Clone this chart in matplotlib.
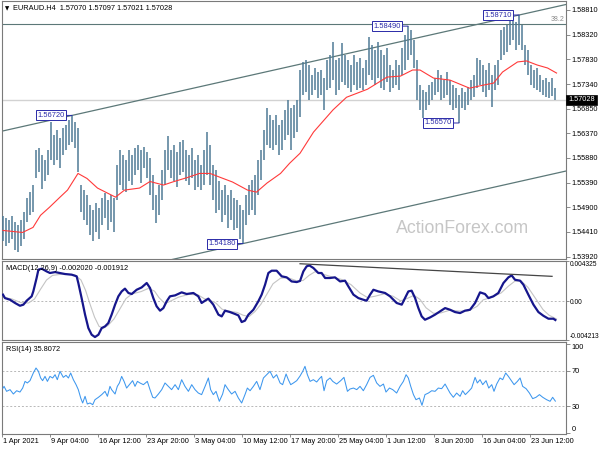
import matplotlib
matplotlib.use("Agg")
import matplotlib.pyplot as plt
import numpy as np
from matplotlib.transforms import ScaledTranslation, blended_transform_factory

plt.rcParams['font.family'] = ['Liberation Sans', 'DejaVu Sans']

symbol = "EURAUD.H4"
title_ohlc = [1.57070, 1.57097, 1.57021, 1.57028]

# Price bars: each entry covers two consecutive H4 candles (high / low)
bar_high = [
    1.5472, 1.5468, 1.5464, 1.5472, 1.5460, 1.5454, 1.5464, 1.5480,
    1.5508, 1.5520, 1.5534,
    1.5603, 1.5607, 1.5593, 1.5583, 1.5603,
    1.5659, 1.5633, 1.5643, 1.5627, 1.5647, 1.5653, 1.5663, 1.5672, 1.5659, 1.5647,
    1.5534, 1.5524, 1.5514, 1.5494, 1.5484, 1.5498, 1.5488,
    1.5508, 1.5518, 1.5504, 1.5514, 1.5508,
    1.5573, 1.5603, 1.5593, 1.5583, 1.5603, 1.5593, 1.5607, 1.5613, 1.5603, 1.5609, 1.5599,
    1.5587, 1.5553, 1.5514, 1.5534, 1.5563,
    1.5603, 1.5631, 1.5603, 1.5613, 1.5599, 1.5619, 1.5623,
    1.5603, 1.5593, 1.5607, 1.5583, 1.5593, 1.5573, 1.5603, 1.5639, 1.5613,
    1.5573, 1.5563, 1.5543, 1.5524, 1.5534, 1.5514, 1.5524, 1.5508, 1.5504, 1.5494, 1.5484,
    1.5514, 1.5534, 1.5544, 1.5553, 1.5583, 1.5603,
    1.5643, 1.5687, 1.5673, 1.5663, 1.5673, 1.5653, 1.5663, 1.5683, 1.5702, 1.5687, 1.5692, 1.5702,
    1.5762, 1.5778, 1.5782, 1.5772, 1.5752, 1.5766, 1.5758, 1.5762, 1.5746,
    1.5782, 1.5792, 1.5818, 1.5782, 1.5786, 1.5816,
    1.5792, 1.5782, 1.5772, 1.5792, 1.5778, 1.5786, 1.5766, 1.5782,
    1.5828, 1.5812, 1.5802, 1.5818, 1.5802, 1.5792, 1.5806,
    1.5772, 1.5762, 1.5782, 1.5772,
    1.5806, 1.5831, 1.5849, 1.5841, 1.5822,
    1.5782, 1.5732, 1.5722, 1.5718, 1.5732, 1.5738, 1.5746, 1.5762, 1.5752, 1.5742, 1.5758,
    1.5742, 1.5732, 1.5726, 1.5712, 1.5726, 1.5718, 1.5728,
    1.5742, 1.5752, 1.5786, 1.5782, 1.5772, 1.5762, 1.5776, 1.5752, 1.5772, 1.5782,
    1.5841, 1.5847, 1.5851, 1.5861, 1.5866, 1.5857, 1.5871, 1.5851,
    1.5812, 1.5802, 1.5772, 1.5762, 1.5766, 1.5752, 1.5742, 1.5746, 1.5738, 1.5746, 1.5726,
]
bar_low = [
    1.5424, 1.5414, 1.5420, 1.5428, 1.5405, 1.5401, 1.5414, 1.5428,
    1.5460, 1.5474, 1.5480,
    1.5547, 1.5559, 1.5527, 1.5543, 1.5553,
    1.5583, 1.5573, 1.5583, 1.5567, 1.5593, 1.5603, 1.5613, 1.5619, 1.5607, 1.5559,
    1.5480, 1.5464, 1.5454, 1.5434, 1.5424, 1.5440, 1.5428,
    1.5454, 1.5468, 1.5444, 1.5460, 1.5440,
    1.5504, 1.5534, 1.5524, 1.5520, 1.5543, 1.5534, 1.5553, 1.5563, 1.5539, 1.5567, 1.5547,
    1.5514, 1.5484, 1.5458, 1.5474, 1.5504,
    1.5534, 1.5563, 1.5547, 1.5543, 1.5530, 1.5553, 1.5559,
    1.5543, 1.5534, 1.5547, 1.5524, 1.5530, 1.5524, 1.5534, 1.5553, 1.5534,
    1.5504, 1.5478, 1.5484, 1.5460, 1.5474, 1.5448, 1.5464, 1.5444, 1.5448, 1.5428, 1.5418,
    1.5454, 1.5474, 1.5484, 1.5474, 1.5514, 1.5544,
    1.5583, 1.5613, 1.5607, 1.5603, 1.5613, 1.5593, 1.5603, 1.5623, 1.5633, 1.5603, 1.5627, 1.5639,
    1.5669, 1.5712, 1.5718, 1.5702, 1.5712, 1.5722, 1.5706, 1.5712, 1.5683,
    1.5722, 1.5726, 1.5742, 1.5712, 1.5722, 1.5738,
    1.5732, 1.5726, 1.5718, 1.5732, 1.5722, 1.5726, 1.5722, 1.5732,
    1.5752, 1.5742, 1.5732, 1.5746, 1.5726, 1.5722, 1.5738,
    1.5718, 1.5726, 1.5732, 1.5722,
    1.5752, 1.5762, 1.5782, 1.5792, 1.5766,
    1.5702, 1.5683, 1.5667, 1.5683, 1.5692, 1.5702, 1.5712, 1.5718, 1.5702, 1.5706, 1.5712,
    1.5692, 1.5683, 1.5686, 1.5657, 1.5686, 1.5683, 1.5692,
    1.5702, 1.5708, 1.5726, 1.5732, 1.5718, 1.5708, 1.5722, 1.5688, 1.5722, 1.5732,
    1.5782, 1.5792, 1.5798, 1.5812, 1.5822, 1.5802, 1.5812, 1.5802,
    1.5772, 1.5752, 1.5732, 1.5726, 1.5722, 1.5718, 1.5712, 1.5708, 1.5706, 1.5710, 1.5702,
]

# Moving average (bar index in H4 units, price)
ma_bar = [0, 13, 20, 25, 31, 38, 43, 50, 56, 63, 75, 81, 91, 98, 107, 113, 123, 131,
          138, 145, 153, 163, 169, 176, 185, 191, 198, 207, 220, 229, 243, 256, 265,
          273, 278, 287, 298, 311, 320, 327, 333, 343, 349, 356, 363, 369]
ma_price = [1.5444, 1.5440, 1.5450, 1.5474, 1.5490, 1.5510, 1.5524, 1.5557, 1.5547,
            1.5528, 1.5510, 1.5524, 1.5528, 1.5541, 1.5534, 1.5540, 1.5549, 1.5557,
            1.5557, 1.5549, 1.5540, 1.5524, 1.5520, 1.5538, 1.5557, 1.5577, 1.5597,
            1.5639, 1.5683, 1.5708, 1.5724, 1.5748, 1.5750, 1.5762, 1.5762, 1.5746,
            1.5742, 1.5726, 1.5732, 1.5736, 1.5758, 1.5778, 1.5780, 1.5772, 1.5766,
            1.5756]

# Swing points marked with price tags (index into the bar lists)
swing_idx = [23, 80, 135, 152, 172]
swing_kind = ['high', 'low', 'high', 'low', 'high']

fib_level = 1.58527
fib_text = "38.2"

price_ticks = [1.58810, 1.58320, 1.57830, 1.57340, 1.56850, 1.56370,
               1.55880, 1.55390, 1.54900, 1.54410, 1.53920]

# MACD(12,26,9), values in units of 1e-4
macd_bar = [0, 1.3, 4.7, 8, 11.3, 13.6, 15.8, 19.1, 20.2, 22.4,
            23.6, 25.8, 29.1, 31.3, 34.7, 38, 41.3, 45.8, 49.1, 50.2,
            52.4, 54.7, 56.9, 59.1, 61.3, 63.6, 65.8, 68, 70.2, 72.4,
            74.7, 76.9, 79.1, 81.3, 83.6, 85.8, 89.1, 92.4, 95.8, 98,
            100.2, 102.4, 104.7, 106.9, 109.1, 111.3, 114.7, 119.1, 122.4, 126.9,
            130.2, 132.4, 134.7, 136.9, 140.2, 143.6, 145.8, 148, 151.3, 154.7,
            156.9, 159.1, 161.3, 163.6, 166.9, 170.2, 172.4, 174.7, 176.9, 179.1,
            182.4, 185.8, 189.1, 192.4, 195.8,
            198, 200.2, 202.4, 204.2, 206.9, 210.2, 212.4, 214.7, 218, 221.3,
            224.7, 228, 230.2, 233.6, 236.9, 240.2, 242.4, 244.7, 246.9, 250.2,
            254.7, 258, 262.4, 265.8, 268, 270.2, 272.4, 274.7, 276.9, 279.1,
            281.3, 284.7, 288, 291.3, 294.7, 298, 301.3, 304.7, 308, 311.3,
            314.7, 318, 321.3, 323.6, 326.9, 330.2, 333.6, 336.9, 339.1, 341.3,
            344.7, 346.9, 350.2, 353.6, 356.9, 360.2, 363.6, 366.9, 368.2]
macd_main = [7.2, 3.5, 1.7, -1.8, -4.8, -3.6, 0.7, 5.4, 10.7, 25.2,
             34.2, 35.3, 32.3, 30.6, 31.6, 30.6, 29.5, 28.8, 27.0, 19.8,
             3.5, -14.4, -28.9, -36.1, -38.6, -36.1, -28.9, -27.1, -23.5, -14.4,
             -3.6, 5.4, 10.7, 13.7, 9.0, 7.9, 12.5, 15.0, 19.8, 14.4,
             3.5, -5.4, -10.1, -7.3, 0.0, 5.4, 6.4, 9.7, 7.9, 9.0,
             5.4, -1.8, 0.7, 2.9, -3.6, -14.4, -16.3, -10.1, -11.6, -13.7,
             -15.2, -22.4, -20.9, -14.4, -9.1, 0.0, 7.2, 18.0, 30.6, 33.1,
             33.1, 27.0, 25.9, 21.5, 20.8,
             22.0, 32.3, 37.8, 38.8, 36.0, 30.6, 30.6, 25.2, 25.2, 25.9,
             21.5, 22.3, 16.2, 7.2, 3.5, 1.7, 0.7, 7.2, 12.5, 10.7,
             9.0, 5.4, -1.8, -3.6, 3.5, 10.7, 11.5, 3.5, -7.3, -16.3,
             -19.9, -17.4, -14.4, -10.9, -7.3, -9.1, -11.6, -12.7, -10.1, -9.1,
             -1.8, 9.7, 7.9, 3.5, 5.4, 9.0, 19.8, 25.9, 28.0, 23.3,
             22.3, 18.0, 7.2, -3.6, -11.6, -15.6, -18.8, -18.8, -20.20]
signal_bar = [0, 6, 12, 17, 21, 25, 29, 33, 40, 48,
              52, 55, 58, 61, 64, 67, 70, 74, 78, 82,
              86, 92, 97, 101, 104, 108, 112, 117, 124, 130,
              134, 138, 142, 146, 150, 156, 160, 164, 168, 172,
              176, 180, 185, 190, 196, 200, 204, 208, 214, 220,
              226, 232, 238, 243, 248, 254, 260, 265, 270, 274,
              278, 282, 287, 292, 298, 304, 310, 316, 320, 326,
              332, 337, 341, 345, 350, 354, 360, 364, 369]
signal_line = [4.5, 2.5, -1.5, -1.8, 2.5, 13, 23, 28, 29.5, 28.5,
               23, 12, -3, -17, -27, -29, -26, -19, -8, 3,
               8, 10.5, 14, 11, 4, -2.5, 0.5, 4.5, 7.5, 7,
               3, 1, -2, -8.5, -10.5, -12, -15, -16.5, -11, -3,
               8, 19, 25, 25.5, 22, 22.5, 28, 32, 29, 26,
               23.5, 18, 9, 4, 5.5, 8, 5.5, 0.5, 3.5, 6.5,
               2, -7, -13, -12.5, -9.5, -10.5, -10.5, -5.5, 1.5, 4.5,
               9, 16.5, 21.5, 22.5, 15, 5.5, -9, -15, -19.12]
macd_trend_bar = [198, 366]
macd_trend_value = [40.6, 27.0]
macd_range = [-42.13, 43.25]

# RSI(14)
rsi_bar = [0, 0.7, 2.4, 4.7, 6.9, 9.1, 11.3, 13.1, 14.7, 16.2, 18, 20.2, 22, 23.6,
           25.1, 26.4, 28, 29.6, 31.3, 33.1, 34.7, 36.2, 38, 40.2, 42, 43.6, 45.1,
           46.9, 48.7, 50.2, 51.8, 53.1, 54.7, 56.2, 58, 59.8, 61.3, 63.6, 65.8, 68,
           69.6, 71.3, 72.4, 74.7, 76.2, 77.6, 79.1, 80.7, 82.4, 84.2, 86.4, 88, 89.6,
           91.3, 93.6, 96.2, 98, 99.8, 101.3, 103.6, 105.8, 108, 110.2, 112.4, 114.7,
           116.9, 119.1, 121.3, 123.6, 125.8, 128, 130.2, 132.4, 134.7, 136.9, 138.4,
           140.2, 142, 144.2, 146.4, 148, 150.2, 152.4, 154.7, 156.9, 159.1, 161.3,
           162.9, 164.7, 166.9, 169.1, 171.3, 173.6, 175.8, 178, 180.2, 182.4, 184.7,
           186.4, 188.7, 190.2, 191.8, 193.6, 195.8,
           198, 199.8, 201.3, 202.9, 204.7, 206.9, 209.1, 210.9, 212.4, 214, 215.8,
           218, 219.8, 222.4, 225.1, 227.3, 229.6, 231.3, 233.6, 235.8, 238, 240.2,
           242.4, 244.7, 246.9, 249.1, 251.3, 253.6, 255.3, 257.6, 259.8, 262.4, 264.7,
           266.9, 268.7, 270.2, 271.8, 273.6, 275.3, 277.6, 279.3, 281.3, 283.6, 285.8,
           288, 290.2, 292.4, 294.7, 296.2, 298, 300.2, 302.4, 304.7, 306.4, 308.2,
           310.4, 312.4, 314.7, 316.2, 318, 319.8, 322, 323.8, 325.8, 327.3, 329.1,
           331.3, 333.1, 335.1, 336.9, 338.4, 340.7, 342.9, 344.7, 346.4, 348.7, 350.9,
           353.1, 355.3, 357.6, 359.8, 362.4, 364.7, 366.4, 368.2]
rsi_value = [50.5, 52.4, 46.8, 48.7, 43.8, 47.5, 46.0, 50.5, 58.0, 56.2, 58.8, 67.4, 73.0, 69.3,
             61.8, 58.8, 63.6, 58.0, 63.6, 61.8, 65.5, 59.9, 69.3, 62.5, 64.8, 61.8, 67.4,
             59.9, 54.3, 48.7, 39.3, 33.7, 41.2, 32.6, 33.7, 31.8, 37.4, 40.1, 43.1, 46.8,
             41.2, 52.4, 48.7, 43.8, 52.4, 56.2, 63.6, 58.0, 50.5, 54.3, 58.8, 52.4, 58.0,
             56.2, 54.3, 58.0, 48.7, 40.1, 39.3, 43.8, 48.7, 56.2, 52.4, 48.7, 54.3,
             48.7, 59.9, 52.4, 46.8, 54.3, 48.7, 44.9, 43.1, 52.4, 61.8, 48.7,
             43.1, 46.8, 35.6, 43.8, 54.3, 48.7, 43.8, 46.8, 39.3, 33.7, 43.1,
             50.5, 47.5, 52.4, 58.0, 48.7, 61.8, 65.5, 69.3, 61.8, 65.5, 56.2,
             54.3, 66.3, 59.9, 54.3, 56.2, 58.8,
             64.0, 69.3, 74.9, 65.5, 58.0, 59.9, 57.3, 61.0, 63.6, 47.5, 58.8,
             61.8, 58.0, 55.0, 58.8, 62.5, 46.8, 49.4, 50.5, 48.7, 52.4, 47.5,
             54.3, 62.5, 64.8, 56.2, 52.4, 55.0, 46.0, 50.5, 48.7, 44.9, 52.4,
             58.0, 65.5, 61.8, 52.4, 43.1, 37.4, 39.3, 31.1, 43.1, 44.9, 47.5,
             46.8, 50.5, 49.8, 55.0, 50.5, 44.9, 40.1, 44.9, 41.2, 47.5, 43.1,
             46.8, 50.5, 62.5, 56.2, 59.9, 54.3, 58.8, 50.5, 54.3, 46.8, 55.0,
             61.8, 59.9, 67.4, 63.6, 59.9, 54.3, 58.0, 61.8, 52.4, 49.8, 44.9,
             38.6, 40.1, 43.1, 40.1, 37.4, 35.6, 40.1, 35.8072]

date_bars = [-0.5, 31, 63, 95, 127, 159, 191, 223, 255, 287, 319, 351]
date_labels = ["1 Apr 2021", "9 Apr 04:00", "16 Apr 12:00", "23 Apr 20:00",
               "3 May 04:00", "10 May 12:00", "17 May 20:00", "25 May 04:00",
               "1 Jun 12:00", "8 Jun 20:00", "16 Jun 04:00", "23 Jun 12:00"]

# ---------------------------------------------------------------- styling
BAR_COLOR = '#4f7b96'
MA_COLOR = '#ff3a3a'
CHANNEL_COLOR = '#5c7878'
TAG_COLOR = '#2a2aa8'
FRAME_COLOR = '#7a7a7a'
FS = 5.3
W, H = 600, 450

fig = plt.figure(figsize=(6, 4.5), dpi=100)
fig.patch.set_facecolor('white')


def panel(top_px, bottom_px):
    left_px, right_px = 1.7, 565.7
    return fig.add_axes([left_px / W, 1 - bottom_px / H,
                         (right_px - left_px) / W, (bottom_px - top_px) / H])


ax = panel(1.0, 259.0)
axm = panel(261.3, 340.3)
axr = panel(342.3, 433.7)

XLIM = (-0.87, 375.1)
for a in (ax, axm, axr):
    a.set_xlim(*XLIM)
    a.yaxis.tick_right()
    a.tick_params(axis='y', length=3, width=0.6, pad=1.2, labelsize=FS,
                  color=FRAME_COLOR, labelcolor='black')
    for s in a.spines.values():
        s.set_color(FRAME_COLOR)
        s.set_linewidth(0.8)
    a.set_facecolor('white')
for a in (ax, axm):
    a.set_xticks([])

# ---------------------------------------------------------------- price panel
bar_pos = 2 * np.arange(len(bar_high))
ax.vlines(bar_pos, bar_low, bar_high, color=BAR_COLOR, lw=1.1, zorder=3)
ax.plot(ma_bar, ma_price, color=MA_COLOR, lw=0.8, zorder=4)
ax.set_ylim(1.53874, 1.58988)
ax.set_yticks(price_ticks)
ax.set_yticklabels([f"{p:.5f}" for p in price_ticks])

# channel: upper edge through the two marked highs, lower edge parallel through the marked low
hi_a, lo_b, hi_c = swing_idx[0], swing_idx[1], swing_idx[4]
slope = (bar_high[hi_c] - bar_high[hi_a]) / (bar_pos[hi_c] - bar_pos[hi_a])
xs = np.array(XLIM)
ax.plot(xs, bar_high[hi_a] + slope * (xs - bar_pos[hi_a]), color=CHANNEL_COLOR, lw=0.9, zorder=2)
ax.plot(xs, bar_low[lo_b] + slope * (xs - bar_pos[lo_b]), color=CHANNEL_COLOR, lw=0.9, zorder=2)

# fibonacci level and bid line
ax.axhline(fib_level, color=CHANNEL_COLOR, lw=0.8, zorder=2)
tr_ad = blended_transform_factory(ax.transAxes, ax.transData)
ax.text(0.998, fib_level, fib_text, transform=tr_ad + ScaledTranslation(0, 1.5 / 100, fig.dpi_scale_trans),
        ha='right', va='bottom', fontsize=5.0, color='#8a8a8a')
last_close = title_ohlc[3]
ax.axhline(last_close, color='#d2d2d2', lw=1.0, zorder=1)
ax.text(1.0, last_close, f"{last_close:.5f}",
        transform=tr_ad + ScaledTranslation(2.5 / 100, 0, fig.dpi_scale_trans),
        ha='left', va='center', fontsize=FS, color='white', clip_on=False, zorder=6,
        bbox=dict(boxstyle='square,pad=0.25', fc='black', ec='black', lw=0.5))

# swing price tags
for idx, kind in zip(swing_idx, swing_kind):
    val = bar_high[idx] if kind == 'high' else bar_low[idx]
    ax.annotate(f"{val:.5f}", xy=(bar_pos[idx], val), xytext=(-5.5, 0),
                textcoords='offset points', ha='right', va='center', fontsize=5.4,
                color=TAG_COLOR, zorder=7,
                bbox=dict(boxstyle='square,pad=0.2', fc='white', ec=TAG_COLOR, lw=0.7),
                arrowprops=dict(arrowstyle='-', color=TAG_COLOR, lw=0.7, shrinkA=0, shrinkB=0))

fig.text(5 / W, 1 - 8.5 / H, "\u25bc", fontsize=4.0, va='center', ha='left', color='black',
         family=['DejaVu Sans'])
fig.text(13 / W, 1 - 8 / H, symbol + "  " + " ".join(f"{v:.5f}" for v in title_ohlc),
         fontsize=FS, va='center', ha='left', color='black')
fig.text(463 / W, 1 - 229 / H, "ActionForex.com", fontsize=12.8, color='#c6c6c6',
         ha='center', va='center')

# ---------------------------------------------------------------- MACD panel
axm.set_ylim(*macd_range)
axm.axhline(0, color='#b8b8b8', lw=0.7, ls=(0, (2, 2)), zorder=1)
axm.plot(signal_bar, signal_line, color='#c4c4c4', lw=0.8, zorder=2)
axm.plot(macd_bar, macd_main, color='#16168c', lw=1.6, zorder=3)
axm.plot(macd_trend_bar, macd_trend_value, color='#454545', lw=0.9, zorder=4)
axm.set_yticks([macd_range[1], 0, macd_range[0]])
axm.set_yticklabels([f"{macd_range[1] * 1e-4:.6f}", "0.00", f"{macd_range[0] * 1e-4:.6f}"])
axm.tick_params(axis='y', labelsize=4.75, pad=0.4, length=2.5)
yl = axm.get_yticklabels()
yl[0].set_va('top')
yl[2].set_va('bottom')
axm.text(4 / 564, 1 - 3.5 / 79,
         f"MACD(12,26,9) {macd_main[-1] * 1e-4:.6f} {signal_line[-1] * 1e-4:.6f}",
         transform=axm.transAxes, fontsize=FS, va='top', ha='left', color='black')

# ---------------------------------------------------------------- RSI panel
axr.set_ylim(-0.8, 101.9)
for lvl in (70, 30):
    axr.axhline(lvl, color='#b8b8b8', lw=0.7, ls=(0, (2, 2)), zorder=1)
axr.plot(rsi_bar, rsi_value, color='#3d97ee', lw=0.75, zorder=3)
axr.set_yticks([100, 70, 30, 0])
axr.set_yticklabels(["100", "70", "30", "0"])
rl = axr.get_yticklabels()
rl[0].set_va('top')
rl[3].set_va('bottom')
axr.text(4 / 564, 1 - 3.5 / 91.4, f"RSI(14) {rsi_value[-1]:.4f}",
         transform=axr.transAxes, fontsize=FS, va='top', ha='left', color='black')

axr.set_xticks(date_bars)
axr.set_xticklabels(date_labels)
axr.tick_params(axis='x', length=2.5, width=0.6, pad=0.6, labelsize=FS, color=FRAME_COLOR)
for lab in axr.get_xticklabels():
    lab.set_ha('left')
    lab.set_transform(lab.get_transform() + ScaledTranslation(1 / 100, 0, fig.dpi_scale_trans))

fig.savefig("out.png", dpi=100, facecolor='white')
